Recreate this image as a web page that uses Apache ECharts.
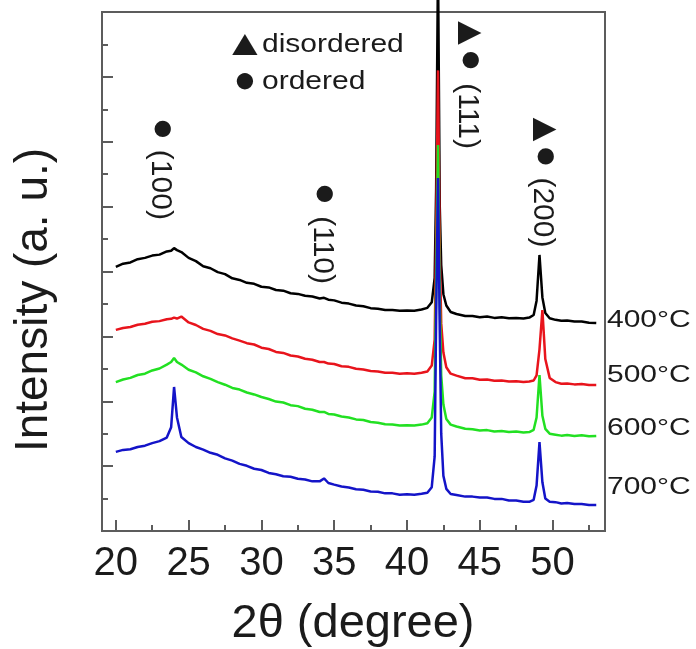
<!DOCTYPE html>
<html>
<head>
<meta charset="utf-8">
<script src="https://cdn.jsdelivr.net/npm/echarts@6/dist/echarts.min.js"></script>
<style>
  html, body { margin: 0; padding: 0; background: #ffffff; }
  #chart { width: 696px; height: 649px; }
</style>
</head>
<body>
<div id="chart"></div>
<script>
// 2-theta sampling positions (degree), shared by all four patterns
const twoTheta = [
  20.0, 20.5, 21.0, 21.5, 22.0, 22.5, 23.0, 23.5, 23.8, 24.0, 24.2, 24.5,
  25.0, 25.5, 26.0, 26.5, 27.0, 27.5, 28.0, 28.5, 29.0, 29.5, 30.0, 30.5,
  31.0, 31.5, 32.0, 32.5, 33.0, 33.5, 34.0, 34.3, 34.6, 35.0, 35.5, 36.0,
  36.5, 37.0, 37.5, 38.0, 38.5, 39.0, 39.5, 40.0, 40.5, 41.0, 41.4, 41.7,
  41.9, 42.0, 42.13, 42.25, 42.35, 42.5, 42.7, 43.0, 43.4, 44.0, 44.5, 45.0,
  45.5, 46.0, 46.5, 47.0, 47.5, 48.0, 48.4, 48.7, 48.9, 49.1, 49.3, 49.5,
  49.8, 50.2, 50.6, 51.0, 51.5, 52.0, 52.5, 53.0
];

// Intensity (a. u., vertically offset) of each annealing temperature
const i400 = [
  8.14, 8.24, 8.28, 8.38, 8.42, 8.49, 8.52, 8.62, 8.64, 8.72, 8.66, 8.60,
  8.42, 8.32, 8.16, 8.10, 7.98, 7.92, 7.79, 7.74, 7.65, 7.62, 7.53, 7.51,
  7.43, 7.41, 7.33, 7.31, 7.25, 7.23, 7.17, 7.19, 7.13, 7.11, 7.04, 7.01,
  6.95, 6.93, 6.87, 6.85, 6.81, 6.81, 6.79, 6.80, 6.79, 6.83, 6.88, 7.05,
  7.80, 10.5, 17.5, 10.0, 8.20, 7.30, 6.95, 6.75, 6.69, 6.63, 6.63, 6.59,
  6.61, 6.57, 6.59, 6.56, 6.57, 6.55, 6.58, 6.66, 7.10, 8.51, 7.20, 6.72,
  6.56, 6.51, 6.48, 6.49, 6.46, 6.46, 6.42, 6.41
];
const i500 = [
  6.20, 6.26, 6.29, 6.36, 6.39, 6.45, 6.47, 6.53, 6.54, 6.58, 6.55, 6.61,
  6.43, 6.35, 6.23, 6.17, 6.07, 6.03, 5.94, 5.87, 5.79, 5.75, 5.65, 5.61,
  5.52, 5.49, 5.41, 5.38, 5.31, 5.28, 5.21, 5.21, 5.16, 5.15, 5.08, 5.06,
  5.00, 4.98, 4.93, 4.92, 4.88, 4.88, 4.85, 4.86, 4.85, 4.88, 4.92, 5.10,
  5.90, 9.00, 14.2, 8.60, 6.40, 5.50, 5.05, 4.85, 4.79, 4.71, 4.71, 4.66,
  4.67, 4.63, 4.64, 4.61, 4.62, 4.59, 4.61, 4.64, 4.80, 5.60, 6.81, 5.30,
  4.72, 4.59, 4.54, 4.55, 4.52, 4.53, 4.50, 4.50
];
const i600 = [
  4.59, 4.67, 4.72, 4.81, 4.85, 4.95, 5.01, 5.13, 5.21, 5.33, 5.21, 5.13,
  4.97, 4.89, 4.77, 4.69, 4.59, 4.51, 4.41, 4.36, 4.27, 4.21, 4.13, 4.07,
  3.99, 3.96, 3.88, 3.85, 3.77, 3.74, 3.67, 3.67, 3.61, 3.59, 3.53, 3.50,
  3.44, 3.42, 3.36, 3.34, 3.29, 3.28, 3.25, 3.26, 3.25, 3.28, 3.32, 3.50,
  4.30, 7.60, 11.9, 7.20, 4.80, 3.90, 3.45, 3.28, 3.22, 3.15, 3.14, 3.10,
  3.11, 3.07, 3.08, 3.05, 3.07, 3.04, 3.05, 3.12, 3.50, 4.81, 3.55, 3.15,
  3.00, 2.97, 2.94, 2.96, 2.93, 2.95, 2.92, 2.93
];
const i700 = [
  2.44, 2.50, 2.52, 2.59, 2.63, 2.71, 2.77, 2.88, 3.20, 4.44, 3.50, 2.90,
  2.71, 2.59, 2.51, 2.41, 2.35, 2.24, 2.17, 2.07, 2.01, 1.92, 1.88, 1.79,
  1.75, 1.69, 1.67, 1.61, 1.59, 1.53, 1.53, 1.62, 1.48, 1.43, 1.37, 1.34,
  1.29, 1.27, 1.22, 1.21, 1.16, 1.16, 1.12, 1.13, 1.12, 1.15, 1.18, 1.35,
  2.30, 6.50, 10.88, 6.20, 3.00, 1.70, 1.30, 1.14, 1.11, 1.06, 1.06, 1.03,
  1.03, 0.99, 0.99, 0.94, 0.94, 0.90, 0.90, 0.96, 1.40, 2.74, 1.50, 1.00,
  0.90, 0.89, 0.85, 0.86, 0.83, 0.83, 0.80, 0.80
];

const seriesNames = ['400°C', '500°C', '600°C', '700°C'];
const seriesColors = ['#000000', '#e8141c', '#22e022', '#1414c8'];

// axis ticks
const xMajorTicks = [20, 25, 30, 35, 40, 45, 50];
const xMinorTicks = [22.5, 27.5, 32.5, 37.5, 42.5, 47.5, 52.5];
const yMajorTicks = [2, 4, 6, 8, 10, 12, 14];
const yMinorTicks = [1, 3, 5, 7, 9, 11, 13, 15];

// reflection labels: Miller index, phase marks, anchor of the index text (2θ, intensity)
const peakHkl = ['(100)', '(110)', '(111)', '(200)'];
const peakHasDisordered = [false, false, true, true];
const peakAt2Theta = [23.02, 34.16, 44.12, 49.28];
const peakAtIntensity = [10.67, 8.66, 12.79, 9.82];

const FONT = '"Liberation Sans", Arial, Helvetica, sans-serif';
const TEXT = '#1b1b1b';
const FRAME = '#5c5c5c';

const intensities = [i400, i500, i600, i700];

const chart = echarts.init(document.getElementById('chart'), null, { renderer: 'canvas' });

function tickAxis(common, ticks, len, withLabels) {
  return Object.assign({}, common, {
    axisLine: { show: false },
    splitLine: { show: false },
    axisTick: {
      show: true, inside: true, length: len, customValues: ticks,
      lineStyle: { color: FRAME, width: 2 }
    },
    axisLabel: withLabels ? {
      show: true, customValues: ticks, fontSize: 40, color: TEXT,
      fontFamily: FONT, margin: 13
    } : { show: false }
  });
}

const xCommon = { type: 'value', min: 19.05, max: 53.6, position: 'bottom', gridIndex: 0 };
const yCommon = { type: 'value', min: 0, max: 16, position: 'left', gridIndex: 0 };

chart.setOption({
  animation: false,
  backgroundColor: '#ffffff',
  grid: {
    left: 102, right: 91, top: 12, bottom: 118,
    show: true, borderColor: FRAME, borderWidth: 2, backgroundColor: 'transparent'
  },
  xAxis: [
    tickAxis(xCommon, xMajorTicks, 11, true),
    tickAxis(xCommon, xMinorTicks, 6, false)
  ],
  yAxis: [
    tickAxis(yCommon, yMajorTicks, 11, false),
    tickAxis(yCommon, yMinorTicks, 6, false)
  ],
  series: intensities.map((vals, k) => ({
    name: seriesNames[k],
    type: 'line',
    xAxisIndex: 0,
    yAxisIndex: 0,
    showSymbol: false,
    clip: k !== 0,
    lineStyle: { color: seriesColors[k], width: 2.5 },
    data: twoTheta.map((t, i) => [t, vals[i]]),
    z: 2 + k
  }))
});

// Text overlays: reflection labels placed through the axis scales,
// written top-to-bottom with the phase marks stacked above the index
const graphics = [];
function vText(str, x, y, size) {
  return {
    type: 'text', x: x, y: y, rotation: -Math.PI / 2, z: 10,
    style: { text: str, font: size + 'px ' + FONT, fill: TEXT, align: 'center', verticalAlign: 'middle' }
  };
}
peakHkl.forEach((hkl, i) => {
  const p = chart.convertToPixel({ gridIndex: 0 }, [peakAt2Theta[i], peakAtIntensity[i]]);
  graphics.push(vText(hkl, p[0], p[1], 30));
  graphics.push(vText('●', p[0] + 3, p[1] - 56, 38));
  if (peakHasDisordered[i]) graphics.push(vText('▲', p[0] + 2, p[1] - 83, 40));
});

// phase key: marker glyphs and their words
const keyMarks = ['▲', '●'];
const keyMarkSize = [36, 38];
const keyWords = ['disordered', 'ordered'];
const keyY = [45, 82];
keyWords.forEach((w, i) => {
  graphics.push({
    type: 'text', x: 245, y: keyY[i], scaleX: i === 0 ? 1.2 : 1, z: 10,
    style: {
      text: keyMarks[i], font: keyMarkSize[i] + 'px ' + FONT, fill: TEXT,
      align: 'center', verticalAlign: 'middle'
    }
  });
  graphics.push({
    type: 'text', x: 262, y: keyY[i], scaleX: 1.2, z: 10,
    style: { text: w, font: '25px ' + FONT, fill: TEXT, align: 'left', verticalAlign: 'middle' }
  });
});

// temperature tags beside the right frame
const tagY = [320, 375, 428, 487];
seriesNames.forEach((n, i) => {
  graphics.push({
    type: 'text', x: 607, y: tagY[i], scaleX: 1.25, z: 10,
    style: { text: n, font: '24px ' + FONT, fill: TEXT, align: 'left', verticalAlign: 'middle' }
  });
});

// axis titles
graphics.push({
  type: 'text', x: 353, y: 624, z: 10,
  style: { text: '2θ (degree)', font: '47px ' + FONT, fill: TEXT, align: 'center', verticalAlign: 'middle' }
});
graphics.push({
  type: 'text', x: 34, y: 300, rotation: Math.PI / 2, z: 10,
  style: { text: 'Intensity (a. u.)', font: '46px ' + FONT, fill: TEXT, align: 'center', verticalAlign: 'middle' }
});

chart.setOption({ graphic: { elements: graphics } });
</script>
</body>
</html>
